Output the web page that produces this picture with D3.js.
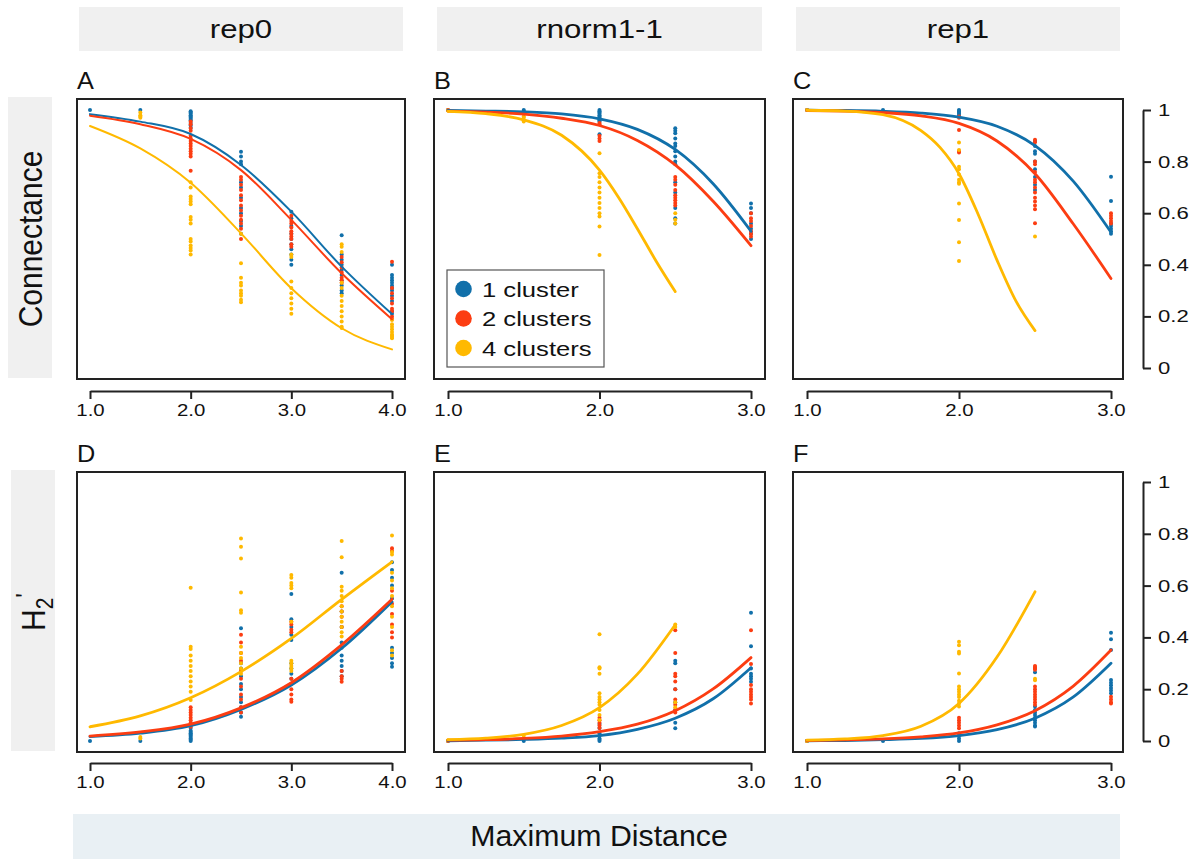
<!DOCTYPE html>
<html>
<head>
<meta charset="utf-8">
<script src="https://cdn.jsdelivr.net/npm/d3@7"></script>
<style>
  body { margin: 0; background: #fff; }
  svg { display: block; font-family: "Liberation Sans", Arial, sans-serif; }
</style>
</head>
<body>
<div id="chart"></div>
<script>
const width = 1194;
const height = 859;

const columnTitles = ['rep0', 'rnorm1-1', 'rep1'];
const panelLetters = ['A', 'B', 'C', 'D', 'E', 'F'];
const seriesNames = ['1 cluster', '2 clusters', '4 clusters'];
const seriesColors = ['#1170aa', '#fc3d12', '#ffb900'];
const xTicksRep0 = [1, 2, 3, 4];
const xTicksOther = [1, 2, 3];
const yTicks = [0, 0.2, 0.4, 0.6, 0.8, 1];

// ---- Connectance, rep0 (A)
const aDots1 = [[1, [1.0]], [1.5, [1.0]],
  [2, [0.995, 0.99, 0.985, 0.98, 0.975, 0.97, 0.965, 0.96, 0.95, 0.94, 0.93]],
  [2.5, [0.838, 0.82, 0.8, 0.79, 0.72, 0.7, 0.66, 0.62, 0.6, 0.57, 0.55, 0.52]],
  [3, [0.606, 0.58, 0.55, 0.52, 0.5, 0.48, 0.46, 0.44, 0.42, 0.4]],
  [3.5, [0.515, 0.44, 0.42, 0.4, 0.38, 0.36, 0.34, 0.32, 0.3, 0.29]],
  [4, [0.4, 0.36, 0.35, 0.34, 0.33, 0.32, 0.31, 0.3, 0.28, 0.26, 0.22, 0.21]]];
const aDots2 = [[2, [0.955, 0.945, 0.93, 0.92, 0.9, 0.89, 0.88, 0.87, 0.86, 0.85, 0.84, 0.83, 0.82, 0.765]],
  [2.5, [0.74, 0.73, 0.71, 0.69, 0.67, 0.65, 0.63, 0.61, 0.59, 0.575, 0.56, 0.54, 0.5]],
  [3, [0.59, 0.57, 0.56, 0.545, 0.53, 0.52, 0.51, 0.5, 0.48, 0.47]],
  [3.5, [0.43, 0.41, 0.39, 0.37, 0.35, 0.34, 0.33]],
  [4, [0.412, 0.31, 0.29, 0.27, 0.25, 0.23, 0.22, 0.2, 0.19]]];
const aDots4 = [[1.5, [0.99, 0.98, 0.975, 0.97]],
  [2, [0.72, 0.7, 0.665, 0.655, 0.645, 0.635, 0.585, 0.575, 0.56, 0.5, 0.49, 0.475, 0.465, 0.455, 0.44]],
  [2.5, [0.52, 0.406, 0.35, 0.33, 0.32, 0.3, 0.29, 0.28, 0.265, 0.255]],
  [3, [0.44, 0.43, 0.335, 0.31, 0.29, 0.27, 0.25, 0.23, 0.21]],
  [3.5, [0.48, 0.47, 0.45, 0.33, 0.31, 0.28, 0.26, 0.24, 0.22, 0.2, 0.18, 0.16, 0.155]],
  [4, [0.186, 0.17, 0.16, 0.15, 0.14, 0.13, 0.125, 0.12, 0.115]]];
const aFit1 = [[1, 0.984], [1.5, 0.955], [2, 0.907], [2.5, 0.787], [3, 0.606], [3.5, 0.393], [4, 0.209]];
const aFit2 = [[1, 0.978], [1.5, 0.945], [2, 0.888], [2.5, 0.767], [3, 0.574], [3.5, 0.367], [4, 0.189]];
const aFit4 = [[1, 0.938], [1.5, 0.851], [2, 0.718], [2.5, 0.522], [3, 0.309], [3.5, 0.154], [4, 0.072]];

// ---- Connectance, rnorm1-1 (B)
const bDots1 = [[1, [1.0]], [1.5, [1.0, 0.995, 0.99, 0.985]],
  [2, [1.0, 0.995, 0.99, 0.985, 0.98, 0.975, 0.97, 0.965, 0.96, 0.955, 0.906]],
  [2.5, [0.929, 0.92, 0.91, 0.89, 0.87, 0.86, 0.84, 0.82, 0.8, 0.79, 0.72, 0.68, 0.62, 0.58, 0.56]],
  [3, [0.638, 0.62, 0.6, 0.56, 0.54, 0.52, 0.5]]];
const bDots2 = [[1, [1.0]],
  [2, [0.95, 0.945, 0.9, 0.89, 0.88]],
  [2.5, [0.74, 0.73, 0.71, 0.69, 0.67, 0.66, 0.65, 0.64, 0.63]],
  [3, [0.6, 0.58, 0.57, 0.55, 0.53, 0.52, 0.51]]];
const bDots4 = [[1, [0.998]], [1.5, [0.975, 0.97, 0.96, 0.955]],
  [2, [0.832, 0.755, 0.74, 0.72, 0.7, 0.68, 0.66, 0.64, 0.62, 0.6, 0.587, 0.548, 0.438]],
  [2.5, [0.6, 0.575, 0.56]]];
const bFit1 = [[1, 0.998], [1.25, 0.996], [1.5, 0.993], [1.75, 0.985], [2, 0.966], [2.25, 0.925], [2.5, 0.847], [2.75, 0.714], [3, 0.53]];
const bFit2 = [[1, 0.996], [1.25, 0.992], [1.5, 0.984], [1.75, 0.968], [2, 0.94], [2.25, 0.882], [2.5, 0.787], [2.75, 0.646], [3, 0.474]];
const bFit4 = [[1, 0.995], [1.25, 0.986], [1.5, 0.962], [1.75, 0.902], [2, 0.767], [2.125, 0.662], [2.25, 0.54], [2.375, 0.413], [2.5, 0.296]];

// ---- Connectance, rep1 (C)
const cDots1 = [[1, [1.0]], [1.5, [1.0]],
  [2, [1.0, 0.995, 0.99, 0.985, 0.98]],
  [2.5, [0.88, 0.86, 0.84, 0.83, 0.8, 0.77, 0.74, 0.71, 0.69]],
  [3, [0.741, 0.647, 0.56, 0.55, 0.54, 0.53, 0.52]]];
const cDots2 = [[1, [1.0]],
  [2, [0.975, 0.97, 0.922, 0.84, 0.835]],
  [2.5, [0.885, 0.875, 0.8, 0.79, 0.76, 0.73, 0.72, 0.7, 0.68, 0.66, 0.645, 0.63, 0.615, 0.561]],
  [3, [0.6, 0.59, 0.58, 0.57, 0.56]]];
const cDots4 = [[1, [1.0]],
  [2, [0.874, 0.845, 0.78, 0.77, 0.75, 0.73, 0.72, 0.714, 0.638, 0.574, 0.487, 0.415]],
  [2.5, [0.51]]];
const cFit1 = [[1, 0.999], [1.25, 0.998], [1.5, 0.995], [1.75, 0.988], [2, 0.972], [2.25, 0.937], [2.5, 0.862], [2.75, 0.725], [3, 0.526]];
const cFit2 = [[1, 0.998], [1.25, 0.996], [1.5, 0.99], [1.75, 0.977], [2, 0.948], [2.25, 0.88], [2.5, 0.753], [2.75, 0.56], [3, 0.347]];
const cFit4 = [[1, 0.999], [1.25, 0.996], [1.5, 0.982], [1.75, 0.92], [1.875, 0.855], [2, 0.753], [2.125, 0.597],
  [2.25, 0.418], [2.375, 0.259], [2.5, 0.145]];

// ---- H2', rep0 (D)
const dDots1 = [[1, [0.0]], [1.5, [0.0]],
  [2, [0.05, 0.04, 0.035, 0.03, 0.025, 0.02, 0.015, 0.01, 0.005, 0.0]],
  [2.5, [0.435, 0.3, 0.28, 0.25, 0.22, 0.2, 0.17, 0.15, 0.13, 0.11, 0.094]],
  [3, [0.568, 0.47, 0.44, 0.41, 0.39, 0.3, 0.28, 0.26, 0.24]],
  [3.5, [0.65, 0.5, 0.44, 0.38, 0.36, 0.33, 0.31, 0.29, 0.27, 0.25]],
  [4, [0.69, 0.66, 0.63, 0.6, 0.55, 0.36, 0.34, 0.32, 0.3, 0.287]]];
const dDots2 = [[2, [0.13, 0.12, 0.11, 0.1, 0.09, 0.08, 0.07, 0.06, 0.055]],
  [2.5, [0.41, 0.38, 0.34, 0.31, 0.27, 0.24, 0.21, 0.18, 0.16, 0.13, 0.11]],
  [3, [0.46, 0.45, 0.43, 0.42, 0.24, 0.22, 0.2, 0.18, 0.16, 0.152]],
  [3.5, [0.52, 0.5, 0.48, 0.44, 0.27, 0.25, 0.24, 0.229]],
  [4, [0.744, 0.735, 0.58, 0.53, 0.49, 0.45, 0.42, 0.4]]];
const dDots4 = [[1.5, [0.015, 0.01]],
  [2, [0.592, 0.364, 0.355, 0.33, 0.31, 0.29, 0.27, 0.25, 0.23, 0.21, 0.19, 0.158]],
  [2.5, [0.782, 0.75, 0.705, 0.573, 0.505, 0.495, 0.364, 0.34, 0.32, 0.3, 0.28, 0.26]],
  [3, [0.641, 0.63, 0.61, 0.6, 0.59, 0.46, 0.31, 0.3, 0.29, 0.28, 0.27]],
  [3.5, [0.772, 0.709, 0.596, 0.58, 0.56, 0.54, 0.52, 0.5, 0.48, 0.46, 0.44, 0.42, 0.403]],
  [4, [0.793, 0.73, 0.72, 0.65, 0.62, 0.59, 0.56, 0.52, 0.48, 0.44, 0.35, 0.33]]];
const dFit1 = [[1, 0.017], [1.5, 0.03], [2, 0.059], [2.5, 0.122], [3, 0.216], [3.5, 0.358], [4, 0.538]];
const dFit2 = [[1, 0.019], [1.5, 0.035], [2, 0.065], [2.5, 0.128], [3, 0.225], [3.5, 0.371], [4, 0.547]];
const dFit4 = [[1, 0.055], [1.5, 0.097], [2, 0.167], [2.5, 0.268], [3, 0.396], [3.5, 0.547], [4, 0.692]];

// ---- H2', rnorm1-1 (E)
const eDots1 = [[1, [0.0]], [1.5, [0.0]],
  [2, [0.066, 0.05, 0.03, 0.02, 0.01, 0.005, 0.0]],
  [2.5, [0.31, 0.3, 0.2, 0.15, 0.12, 0.07, 0.049]],
  [3, [0.495, 0.366, 0.28, 0.26, 0.25, 0.24, 0.229]]];
const eDots2 = [[1, [0.0]],
  [2, [0.09, 0.08, 0.07, 0.06, 0.05]],
  [2.5, [0.428, 0.34, 0.26, 0.25, 0.23, 0.2, 0.16, 0.14, 0.12, 0.11]],
  [3, [0.428, 0.297, 0.216, 0.2, 0.19, 0.18, 0.17, 0.16, 0.145]]];
const eDots4 = [[1, [0.002]], [1.5, [0.02]],
  [2, [0.412, 0.285, 0.28, 0.26, 0.184, 0.17, 0.16, 0.15, 0.14, 0.12, 0.1, 0.081]],
  [2.5, [0.45, 0.44, 0.15, 0.13]]];
const eFit1 = [[1, 0.001], [1.25, 0.003], [1.5, 0.006], [1.75, 0.011], [2, 0.021], [2.25, 0.045], [2.5, 0.088], [2.75, 0.163], [3, 0.283]];
const eFit2 = [[1, 0.003], [1.25, 0.005], [1.5, 0.01], [1.75, 0.019], [2, 0.036], [2.25, 0.065], [2.5, 0.117], [2.75, 0.201], [3, 0.322]];
const eFit4 = [[1, 0.005], [1.25, 0.011], [1.5, 0.026], [1.75, 0.06], [2, 0.129], [2.25, 0.258], [2.5, 0.449]];

// ---- H2', rep1 (F)
const fDots1 = [[1, [0.0]], [1.5, [0.0]],
  [2, [0.03, 0.02, 0.01, 0.0]],
  [2.5, [0.28, 0.265, 0.133, 0.12, 0.11, 0.1, 0.09, 0.08, 0.07, 0.06, 0.056]],
  [3, [0.418, 0.393, 0.351, 0.236, 0.225, 0.215, 0.205, 0.195, 0.184]]];
const fDots2 = [[1, [0.0]],
  [2, [0.09, 0.08, 0.07, 0.06, 0.049]],
  [2.5, [0.29, 0.285, 0.28, 0.275, 0.21, 0.2, 0.19, 0.18, 0.17, 0.16, 0.15, 0.14]],
  [3, [0.171, 0.16, 0.15, 0.145]]];
const fDots4 = [[1, [0.0]],
  [2, [0.383, 0.37, 0.345, 0.338, 0.261, 0.21, 0.2, 0.19, 0.18, 0.17, 0.155, 0.145, 0.133]],
  [2.5, [0.24, 0.235]]];
const fFit1 = [[1, 0.001], [1.25, 0.002], [1.5, 0.005], [1.75, 0.01], [2, 0.021], [2.25, 0.044], [2.5, 0.088], [2.75, 0.169], [3, 0.3]];
const fFit2 = [[1, 0.002], [1.25, 0.004], [1.5, 0.008], [1.75, 0.016], [2, 0.031], [2.25, 0.062], [2.5, 0.117], [2.75, 0.211], [3, 0.351]];
const fFit4 = [[1, 0.003], [1.25, 0.008], [1.5, 0.021], [1.75, 0.057], [2, 0.145], [2.25, 0.324], [2.5, 0.576]];

const panelDots = [[aDots1, aDots2, aDots4], [bDots1, bDots2, bDots4], [cDots1, cDots2, cDots4],
                   [dDots1, dDots2, dDots4], [eDots1, eDots2, eDots4], [fDots1, fDots2, fDots4]];
const panelFits = [[aFit1, aFit2, aFit4], [bFit1, bFit2, bFit4], [cFit1, cFit2, cFit4],
                   [dFit1, dFit2, dFit4], [eFit1, eFit2, eFit4], [fFit1, fFit2, fFit4]];

// layout (pixels)
const cols = [
  {x0: 77, x1: 405, r0: 90, r1: 392, domain: [1, 4], ticks: xTicksRep0, head: [79, 403]},
  {x0: 434, x1: 765, r0: 448, r1: 751, domain: [1, 3], ticks: xTicksOther, head: [437, 762]},
  {x0: 793, x1: 1123, r0: 807, r1: 1111, domain: [1, 3], ticks: xTicksOther, head: [796, 1120]}
];
const rows = [
  {y0: 99, y1: 379, r0: 368, r1: 110, axisY: 391, label: [8, 52]},
  {y0: 472, y1: 752, r0: 741, r1: 482, axisY: 763, label: [11, 55]}
];
// the figure's lettering is a little wider than the plain font
const stretch = 1.2;

const svg = d3.select('#chart').append('svg')
    .attr('width', width)
    .attr('height', height);

svg.append('rect').attr('width', width).attr('height', height).attr('fill', '#fff');

// text placed at (x, y) and widened horizontally
function wideText(sel, x, y, sx) {
    return sel.append('text').attr('transform', `translate(${x},${y}) scale(${sx},1)`);
}

// column headers
cols.forEach((c, i) => {
    svg.append('rect')
        .attr('x', c.head[0]).attr('y', 7)
        .attr('width', c.head[1] - c.head[0]).attr('height', 44)
        .attr('fill', '#f0f0f0');
    wideText(svg, (c.head[0] + c.head[1]) / 2, 29, stretch)
        .attr('text-anchor', 'middle').attr('dy', '0.36em')
        .attr('font-size', 26).attr('fill', '#111')
        .text(columnTitles[i]);
});

// row labels
rows.forEach((r, i) => {
    svg.append('rect')
        .attr('x', r.label[0]).attr('y', r.y0 - 2)
        .attr('width', r.label[1] - r.label[0]).attr('height', r.y1 - r.y0 + 1)
        .attr('fill', '#f0f0f0');
    const cx = (r.label[0] + r.label[1]) / 2, cy = (r.y0 + r.y1) / 2;
    const t = svg.append('text')
        .attr('transform', `translate(${cx},${cy}) rotate(-90) scale(1,1.1)`)
        .attr('text-anchor', 'middle').attr('dy', '0.36em')
        .attr('font-size', 30).attr('fill', '#111');
    if (i === 0) {
        t.text('Connectance');
    } else {
        t.append('tspan').text('H');
        t.append('tspan').attr('font-size', 21).attr('dy', 7).text('2');
        t.append('tspan').attr('font-size', 24).attr('dy', -17).text("'");
    }
});

// x axis title
svg.append('rect')
    .attr('x', 73).attr('y', 814).attr('width', 1047).attr('height', 45)
    .attr('fill', '#e9f0f4');
wideText(svg, 599, 836, 1.045)
    .attr('text-anchor', 'middle').attr('dy', '0.36em')
    .attr('font-size', 29).attr('fill', '#111')
    .text('Maximum Distance');

const line = d3.line().curve(d3.curveMonotoneX);

panelLetters.forEach((letter, p) => {
    const c = cols[p % 3], r = rows[Math.floor(p / 3)];
    const x = d3.scaleLinear().domain(c.domain).range([c.r0, c.r1]);
    const y = d3.scaleLinear().domain([0, 1]).range([r.r0, r.r1]);
    const g = svg.append('g');

    wideText(g, c.x0, r.y0 - 10, 1.1)
        .attr('font-size', 23).attr('fill', '#111')
        .text(letter);

    // points
    panelDots[p].forEach((series, s) => {
        const pts = series.flatMap(([xv, vals]) => vals.map(v => [xv, v]));
        g.append('g').selectAll('circle').data(pts).join('circle')
            .attr('cx', d => x(d[0]))
            .attr('cy', d => y(d[1]))
            .attr('r', 2)
            .attr('fill', seriesColors[s]);
    });

    // fitted curves
    panelFits[p].forEach((fit, s) => {
        g.append('path')
            .attr('d', line(fit.map(d => [x(d[0]), y(d[1])])))
            .attr('fill', 'none')
            .attr('stroke', seriesColors[s])
            .attr('stroke-width', p === 0 ? 2 : 2.8)
            .attr('stroke-linecap', 'round');
    });

    // frame
    g.append('rect')
        .attr('x', c.x0).attr('y', r.y0)
        .attr('width', c.x1 - c.x0).attr('height', r.y1 - r.y0)
        .attr('fill', 'none').attr('stroke', '#222').attr('stroke-width', 2);

    // bottom axis
    const xAxis = g.append('g')
        .attr('transform', `translate(0,${r.axisY})`)
        .call(d3.axisBottom(x).tickValues(c.ticks).tickFormat(d3.format('.1f'))
            .tickSize(8).tickSizeOuter(0).tickPadding(5));
    xAxis.selectAll('path, line').attr('stroke', '#222').attr('stroke-width', 2);
    xAxis.selectAll('text')
        .attr('font-size', 17).attr('fill', '#111')
        .attr('font-family', '"Liberation Sans", Arial, sans-serif')
        .attr('transform', `scale(${stretch},1)`);

    // right axis on last column
    if (p % 3 === 2) {
        const yAxis = g.append('g')
            .attr('transform', 'translate(1143,0)')
            .call(d3.axisRight(y).tickValues(yTicks).tickFormat(d => String(d))
                .tickSize(8).tickSizeOuter(0).tickPadding(7));
        yAxis.selectAll('path, line').attr('stroke', '#222').attr('stroke-width', 2);
        yAxis.selectAll('text')
            .attr('font-size', 17).attr('fill', '#111')
            .attr('font-family', '"Liberation Sans", Arial, sans-serif')
            .attr('x', 0)
            .attr('transform', `translate(15,0) scale(1.3,1)`);
    }
});

// legend in panel B
const legend = svg.append('g');
legend.append('rect')
    .attr('x', 447).attr('y', 270).attr('width', 157).attr('height', 97)
    .attr('fill', '#fff').attr('stroke', '#555').attr('stroke-width', 1.2);
seriesNames.forEach((name, i) => {
    const yy = 289 + i * 29.5;
    legend.append('circle').attr('cx', 463.5).attr('cy', yy).attr('r', 8.3).attr('fill', seriesColors[i]);
    wideText(legend, 482, yy, 1.22)
        .attr('dy', '0.36em')
        .attr('font-size', 21).attr('fill', '#111')
        .text(name);
});
</script>
</body>
</html>
